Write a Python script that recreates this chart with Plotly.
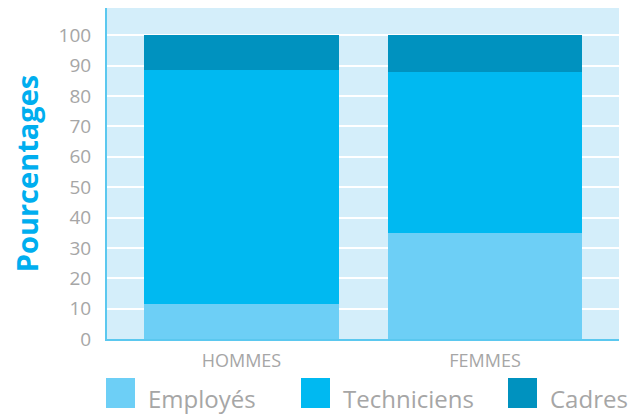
import plotly.graph_objects as go

# Data
categories = ["HOMMES", "FEMMES"]
series_names = ["Employés", "Techniciens", "Cadres"]
employes = [11.5, 35.0]
techniciens = [77.2, 52.8]
cadres = [11.3, 12.2]
y_ticks = [0, 10, 20, 30, 40, 50, 60, 70, 80, 90, 100]

colors = ["#6dcff6", "#00b9f1", "#0092bf"]
grey = "#a6a6a6"

# plot area in pixels (used to place the hand-made legend)
PL, PR, PT, PB = 107, 619, 8, 339
PW, PH = PR - PL, PB - PT


def px(x):
    return (x - PL) / PW


def py(y):
    return (PB - y) / PH


fig = go.Figure()
for name, vals, col in zip(series_names, [employes, techniciens, cadres], colors):
    fig.add_trace(
        go.Bar(
            x=categories,
            y=vals,
            name=name,
            marker=dict(color=col, line=dict(width=0)),
            showlegend=False,
        )
    )

# Custom legend (larger swatches than plotly's native legend)
legend_x = [106, 301, 508]
for name, col, lx in zip(series_names, colors, legend_x):
    fig.add_shape(
        type="rect", xref="paper", yref="paper",
        x0=px(lx), x1=px(lx + 29),
        y0=py(378), y1=py(408),
        fillcolor=col, line=dict(width=0),
    )
    fig.add_annotation(
        text=name, xref="paper", yref="paper",
        x=px(lx + 40), y=py(398),
        xanchor="left", yanchor="middle", showarrow=False,
        font=dict(size=24, color=grey),
    )

fig.update_layout(
    barmode="stack",
    bargap=0.2,
    width=633,
    height=414,
    margin=dict(l=PL, r=633 - PR, t=PT, b=414 - PB),
    paper_bgcolor="white",
    plot_bgcolor="#d4eefa",
    font=dict(family="Open Sans", color=grey),
)

fig.update_yaxes(
    range=[0, 109],
    tickvals=y_ticks,
    tickfont=dict(size=19, color=grey),
    showgrid=True,
    gridcolor="white",
    gridwidth=2,
    zeroline=False,
    showline=True,
    linecolor="#5bc8ef",
    linewidth=2,
    ticks="",
    ticklabelstandoff=10,
    title=dict(
        text="<b>Pourcentages</b>",
        font=dict(size=29, color="#00aeef"),
        standoff=11,
    ),
    automargin=False,
)
fig.update_xaxes(
    range=[-0.552, 1.55],
    tickfont=dict(size=18, color=grey),
    showline=True,
    linecolor="#5bc8ef",
    linewidth=2,
    ticks="",
    ticklabelstandoff=4,
    automargin=False,
)

fig.write_html(
    "out.html",
    config={"displayModeBar": False},
    post_script="document.body.style.margin='0';",
)
